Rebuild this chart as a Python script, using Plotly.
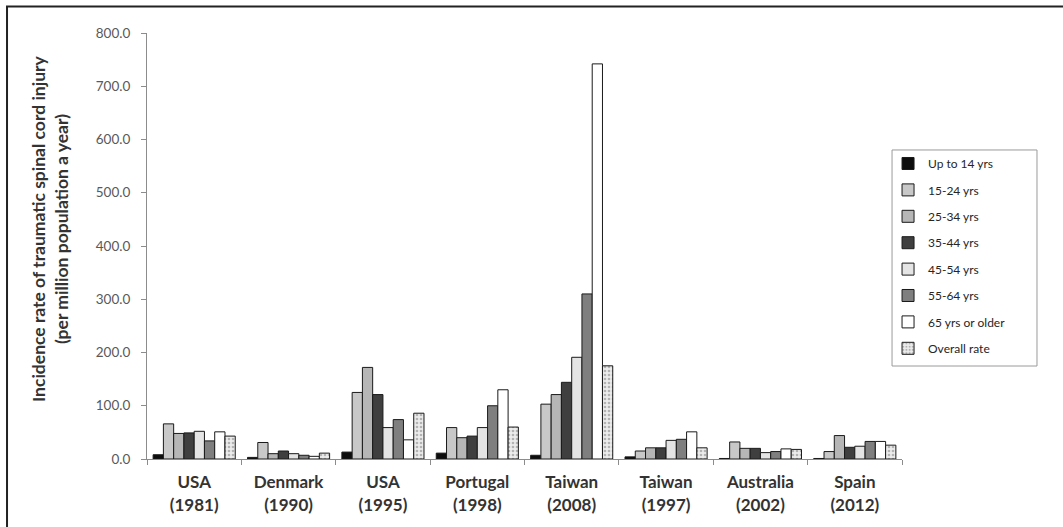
import plotly.graph_objects as go

categories = ["USA<br>(1981)", "Denmark<br>(1990)", "USA<br>(1995)", "Portugal<br>(1998)",
              "Taiwan<br>(2008)", "Taiwan<br>(1997)", "Australia<br>(2002)", "Spain<br>(2012)"]

series_names = ["Up to 14 yrs", "15-24 yrs", "25-34 yrs", "35-44 yrs",
                "45-54 yrs", "55-64 yrs", "65 yrs or older", "Overall rate"]

up_to_14 = [8, 3, 13, 11, 7, 4, 1, 1]
age_15_24 = [66, 31, 125, 59, 103, 15, 32, 14]
age_25_34 = [48, 10, 172, 40, 121, 21, 20, 44]
age_35_44 = [49, 15, 121, 43, 144, 21, 20, 22]
age_45_54 = [52, 10, 59, 59, 191, 35, 12, 24]
age_55_64 = [34, 7, 74, 100, 310, 37, 14, 33]
age_65_plus = [51, 5, 36, 130, 742, 51, 19, 33]
overall = [43, 11, 86, 60, 175, 21, 18, 26]

y_ticks = [0, 100, 200, 300, 400, 500, 600, 700, 800]

values = [up_to_14, age_15_24, age_25_34, age_35_44, age_45_54, age_55_64, age_65_plus, overall]
fills = ["#0d0d0d", "#c8c8c8", "#b6b6b6", "#3f3f3f", "#e4e4e4", "#7f7f7f", "#ffffff", "#ececec"]

fig = go.Figure()
for i, (name, vals, col) in enumerate(zip(series_names, values, fills)):
    marker = dict(color=col, line=dict(color="#1a1a1a", width=1))
    if name == "Overall rate":
        marker["pattern"] = dict(shape=".", fgcolor="#7a7a7a", size=4, solidity=0.35)
    fig.add_trace(go.Bar(x=categories, y=vals, name=name, marker=marker,
                         legendgroup=f"g{i}"))

fig.update_layout(
    width=1063, height=527,
    margin=dict(l=147, r=161, t=33, b=68, autoexpand=False),
    paper_bgcolor="white", plot_bgcolor="white",
    barmode="group", bargap=0.13, bargroupgap=0,
    font=dict(family="Lato, Open Sans, sans-serif", color="#262626"),
    showlegend=True,
    legend=dict(x=0.9815, y=0.7277, xanchor="left", yanchor="top",
                borderwidth=0, bgcolor="rgba(0,0,0,0)",
                font=dict(size=12, color="#262626"),
                traceorder="grouped", tracegroupgap=7.4),
    xaxis=dict(showline=True, linecolor="#8c8c8c", linewidth=1, automargin=False,
               ticks="outside", ticklen=5, tickcolor="#8c8c8c", tickson="boundaries",
               tickfont=dict(size=17, color="#333333", family="Lato, sans-serif"),
               showgrid=False, ticklabelstandoff=8),
    yaxis=dict(range=[0, 800], tickvals=y_ticks, tickformat=".1f", automargin=False,
               showline=True, linecolor="#8c8c8c", linewidth=1,
               ticks="outside", ticklen=5, tickcolor="#8c8c8c",
               tickfont=dict(size=13.5, color="#595959"),
               showgrid=False, zeroline=False, ticklabelstandoff=8),
)

# bold category labels
fig.update_xaxes(ticktext=[f"<b>{c}</b>" for c in categories], tickvals=categories)

fig.add_annotation(
    text="<b>Incidence rate of traumatic spinal cord injury<br>(per million population a year)</b>",
    xref="paper", yref="paper", x=-0.1285, y=0.54, textangle=-90,
    showarrow=False, font=dict(size=17.5, color="#333333"), align="center",
    xanchor="center", yanchor="middle")

# legend box
fig.add_shape(type="rect", xref="paper", yref="paper",
              x0=0.9868, x1=1.1788, y0=0.2183, y1=0.7254,
              line=dict(color="#9a9a9a", width=1), fillcolor="rgba(0,0,0,0)", layer="below")

# outer frame
fig.add_shape(type="rect", xref="paper", yref="paper",
              x0=-0.1854, x1=1.5, y0=-0.4, y1=1.0622,
              line=dict(color="#222222", width=2), fillcolor="rgba(0,0,0,0)", layer="above")

fig.write_html("out.html", config={"displayModeBar": False},
               post_script="document.body.style.margin='0';")
